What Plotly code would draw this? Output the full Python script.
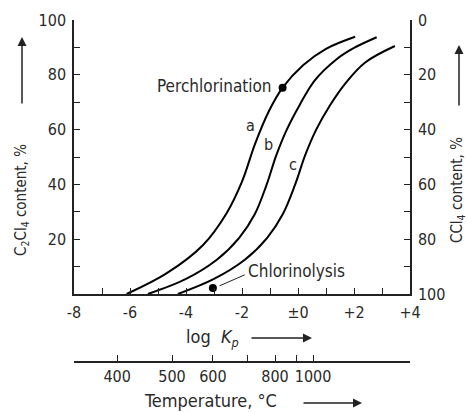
import plotly.graph_objects as go

# ---------------- data ----------------
log_kp_ticks = [-8, -7, -6, -5, -4, -3, -2, -1, 0, 1, 2, 3, 4]
log_kp_labels = ["-8", "", "-6", "", "-4", "", "-2", "", "±0", "", "+2", "", "+4"]

c2cl4_ticks = [0, 10, 20, 30, 40, 50, 60, 70, 80, 90, 100]
c2cl4_labels = ["", "", "20", "", "40", "", "60", "", "80", "", "100"]
ccl4_labels = ["0", "", "20", "", "40", "", "60", "", "80", "", "100"]

temp_values = [400, 500, 600, 700, 800, 900, 1000]
temp_pos_logkp = [-6.46, -4.5, -3.04, -1.82, -0.82, -0.07, 0.54]
temp_labels = ["400", "500", "600", "", "800", "", "1000"]

curve_a_x = [-6.12, -4.7, -3.39, -2.55, -2.0, -1.54, -1.05, -0.55, 0.18, 1.0, 2.04]
curve_a_y = [0, 7.5, 17.9, 29.5, 41, 54.6, 66.5, 75.3, 83.5, 89.5, 93.9]

curve_b_x = [-5.36, -4.0, -2.9, -2.1, -1.55, -1.12, -0.78, -0.4, 0.07, 0.6, 1.38, 2.0, 2.81]
curve_b_y = [0, 5.5, 12.5, 20.5, 29, 39.9, 50.5, 60, 69.2, 78, 85.7, 89.8, 93.7]

curve_c_x = [-4.29, -3.0, -1.9, -1.1, -0.55, -0.1, 0.25, 0.65, 1.15, 1.7, 2.4, 3.46]
curve_c_y = [0, 5.5, 12.5, 20.5, 29, 40, 50.5, 60, 69, 77, 84.5, 90.5]

points_x = [-0.55, -3.04]
points_y = [75.3, 2.2]
point_names = ["Perchlorination", "Chlorinolysis"]

FONT = "DejaVu Sans Condensed, DejaVu Sans, sans-serif"
TXT = "#2a2a2a"

fig = go.Figure()
for xs, ys in [(curve_a_x, curve_a_y), (curve_b_x, curve_b_y), (curve_c_x, curve_c_y)]:
    fig.add_trace(go.Scatter(x=xs, y=ys, mode="lines",
                             line=dict(color="black", width=2, shape="spline", smoothing=1.0),
                             showlegend=False, hoverinfo="skip"))
fig.add_trace(go.Scatter(x=points_x, y=points_y, mode="markers",
                         marker=dict(color="black", size=8), showlegend=False))
# invisible traces to activate secondary axes
fig.add_trace(go.Scatter(x=[None], y=[None], xaxis="x2", yaxis="y", showlegend=False))
fig.add_trace(go.Scatter(x=[None], y=[None], xaxis="x", yaxis="y2", showlegend=False))

axis_common = dict(showgrid=False, zeroline=False, showline=True, linecolor="#222",
                   linewidth=1.5, ticks="inside", ticklen=6, tickcolor="#222", tickwidth=1.2,
                   tickfont=dict(family=FONT, size=16, color=TXT))

fig.update_layout(
    width=467, height=412, autosize=False,
    margin=dict(l=74, r=57, t=20, b=50),
    paper_bgcolor="white", plot_bgcolor="white",
    xaxis=dict(range=[-8, 4], domain=[0, 1], anchor="y", tickmode="array",
               tickvals=log_kp_ticks, ticktext=log_kp_labels, ticklabelstandoff=3, **axis_common),
    xaxis2=dict(range=[-8, 4], overlaying="x", anchor="free", position=0, side="bottom",
                tickmode="array", tickvals=temp_pos_logkp, ticktext=temp_labels, **axis_common),
    yaxis=dict(range=[0, 100], domain=[0.1988, 1], anchor="x", tickmode="array",
               tickvals=c2cl4_ticks, ticktext=c2cl4_labels, ticklabelstandoff=3, **axis_common),
    yaxis2=dict(range=[100, 0], overlaying="y", side="right", anchor="x", tickmode="array",
                tickvals=c2cl4_ticks, ticktext=ccl4_labels, ticklabelstandoff=3, **axis_common),
)

def px(xp):
    return (xp - 74) / 336

def py(yp):
    return (362 - yp) / 342

ann_font = dict(family=FONT, size=16, color=TXT)

# curve labels
for lab, x, y in [("a", -1.71, 61.5), ("b", -1.04, 54.5), ("c", -0.18, 47.3)]:
    fig.add_annotation(x=x, y=y, xref="x", yref="y", text=lab, showarrow=False, font=ann_font)

# point labels
fig.add_annotation(x=points_x[0] - 0.3, y=points_y[0] + 0.5, xref="x", yref="y", text=point_names[0],
                   showarrow=False, xanchor="right", yanchor="middle", font=dict(family=FONT, size=17, color=TXT))
fig.add_annotation(x=-1.85, y=8.5, xref="x", yref="y", text=point_names[1],
                   showarrow=False, xanchor="left", yanchor="middle", font=dict(family=FONT, size=17, color=TXT))
fig.add_shape(type="line", xref="x", yref="y", x0=-2.8, y0=3.0, x1=-1.9, y1=7.0,
              line=dict(color="#222", width=1))

def arrow(xt, yt, dx, dy):
    fig.add_annotation(x=px(xt), y=py(yt), xref="paper", yref="paper",
                       ax=dx, ay=dy, axref="pixel", ayref="pixel", text="", showarrow=True,
                       arrowhead=2, arrowsize=1.2, arrowwidth=1.5, arrowcolor="#222")

# axis titles
fig.add_annotation(x=px(184), y=py(338), xref="paper", yref="paper",
                   text="log  <i>K</i><sub><i>p</i></sub>", showarrow=False,
                   xanchor="left", yanchor="middle", font=dict(family=FONT, size=18, color=TXT))
arrow(312, 338, -62, 0)

fig.add_annotation(x=px(142), y=py(401), xref="paper", yref="paper",
                   text="Temperature, °C", showarrow=False,
                   xanchor="left", yanchor="middle", font=dict(family=FONT, size=18, color=TXT))
arrow(362, 403, -60, 0)

fig.add_annotation(x=px(21), y=py(200), xref="paper", yref="paper",
                   text="C<sub>2</sub>Cl<sub>4</sub> content, %", textangle=-90, showarrow=False,
                   xanchor="center", yanchor="middle", font=dict(family=FONT, size=15, color=TXT))
arrow(22, 37, 0, 68)

fig.add_annotation(x=px(457), y=py(190), xref="paper", yref="paper",
                   text="CCl<sub>4</sub> content, %", textangle=-90, showarrow=False,
                   xanchor="center", yanchor="middle", font=dict(family=FONT, size=15, color=TXT))
arrow(459, 45, 0, 62)

fig.write_html("out.html")
